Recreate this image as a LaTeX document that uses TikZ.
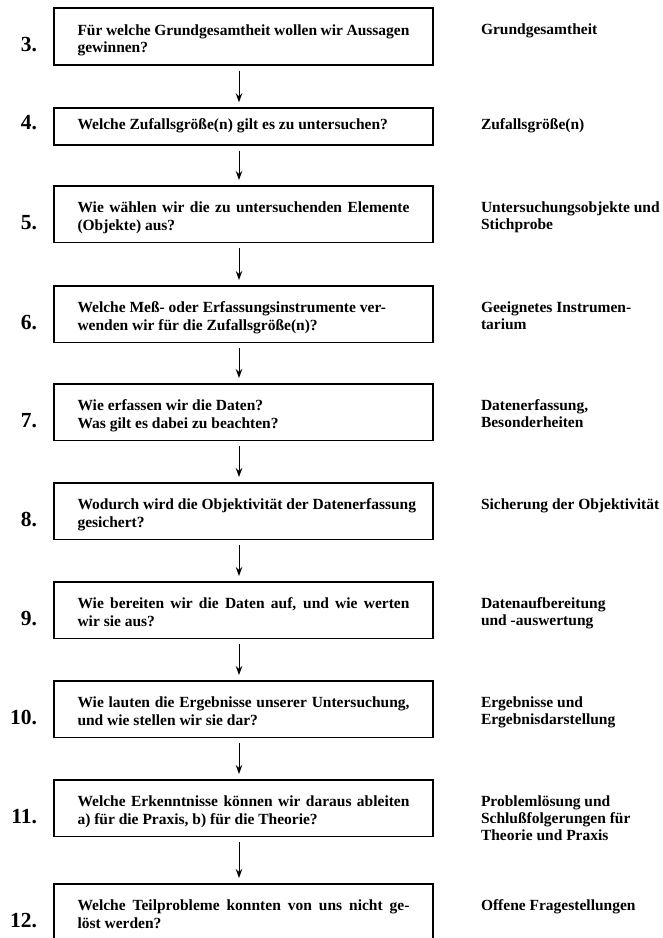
\documentclass[tikz,border=0pt]{standalone}
\usepackage{fontspec}
\setmainfont{Liberation Serif}
\usetikzlibrary{positioning,calc,arrows.meta}

\newcommand{\qtext}[3]{\parbox[c][#1pt][t]{332pt}{\fontsize{15.5}{17.4}\selectfont\bfseries\rule{0pt}{#2pt}#3}}
\newcommand{\atext}[1]{\parbox[t]{185pt}{\raggedright\fontsize{15.5}{17.4}\selectfont\bfseries #1}}

\begin{document}
\begin{tikzpicture}[x=1pt,y=-1pt,
    qbox/.style={draw, line width=1.6pt, inner sep=0pt, minimum width=379pt, anchor=north},
    num/.style={anchor=base east, inner sep=0pt, font=\fontsize{21.5}{24}\selectfont\bfseries},
    topic/.style={anchor=base west, inner sep=0pt},
    flow/.style={line width=1pt, -{Stealth[length=9pt,width=6.5pt]}}]
    \useasboundingbox (0,0) rectangle (662,938);
    \clip (0,0) rectangle (662,938);

    \node[qbox] (b3) at (243.5,7.3) {\qtext{56.7}{27}{Für welche Grundgesamtheit wollen wir Aussagen\linebreak gewinnen?}};
    \node[qbox] (b4) at (243.5,107.3) {\qtext{36.7}{21.7}{Welche Zufallsgröße(n) gilt es zu untersuchen?}};
    \node[qbox] (b5) at (243.5,185) {\qtext{56.7}{27}{Wie wählen wir die zu untersuchenden Elemente\linebreak (Objekte) aus?}};
    \node[qbox] (b6) at (243.5,285) {\qtext{56.7}{27}{Welche Meß- oder Erfassungsinstrumente ver-\\wenden wir für die Zufallsgröße(n)?}};
    \node[qbox] (b7) at (243.5,383) {\qtext{56.7}{27}{Wie erfassen wir die Daten?\\Was gilt es dabei zu beachten?}};
    \node[qbox] (b8) at (243.5,482) {\qtext{56.7}{27}{\mbox{Wodurch wird die Objektivität der Datenerfassung}\\gesichert?}};
    \node[qbox] (b9) at (243.5,581) {\qtext{56.7}{27}{Wie bereiten wir die Daten auf, und wie werten\linebreak wir sie aus?}};
    \node[qbox] (b10) at (243.5,680) {\qtext{56.7}{27}{Wie lauten die Ergebnisse unserer Untersuchung,\linebreak und wie stellen wir sie dar?}};
    \node[qbox] (b11) at (243.5,779) {\qtext{56.7}{27}{Welche Erkenntnisse können wir daraus ableiten\linebreak a) für die Praxis, b) für die Theorie?}};
    \node[qbox] (b12) at (243.5,883) {\qtext{56.7}{27}{Welche Teilprobleme konnten von uns nicht ge-\linebreak löst werden?}};

    \node[num] (n4) at ($(b4.north west)+(-16,21.7)$) {4.};
    \foreach \k in {3,5,6,7,8,9,10,11,12}
        \node[num] (n\k) at ($(b\k.north west)+(-16,44.4)$) {\k.};

    \node[topic] (t3) at ($(b3.north east)+(47,27)$) {\atext{Grundgesamtheit}};
    \node[topic] (t4) at ($(b4.north east)+(47,21.7)$) {\atext{Zufallsgröße(n)}};
    \node[topic] (t5) at ($(b5.north east)+(47,27)$) {\atext{Untersuchungsobjekte und\\Stichprobe}};
    \node[topic] (t6) at ($(b6.north east)+(47,27)$) {\atext{Geeignetes Instrumen-\\tarium}};
    \node[topic] (t7) at ($(b7.north east)+(47,27)$) {\atext{Datenerfassung,\\Besonderheiten}};
    \node[topic] (t8) at ($(b8.north east)+(47,27)$) {\atext{Sicherung der Objektivität}};
    \node[topic] (t9) at ($(b9.north east)+(47,27)$) {\atext{Datenaufbereitung\\und -auswertung}};
    \node[topic] (t10) at ($(b10.north east)+(47,27)$) {\atext{Ergebnisse und\\Ergebnisdarstellung}};
    \node[topic] (t11) at ($(b11.north east)+(47,27)$) {\atext{Problemlösung und\\Schlußfolgerungen für\\Theorie und Praxis}};
    \node[topic] (t12) at ($(b12.north east)+(47,27)$) {\atext{Offene Fragestellungen}};

    \foreach \a/\b in {3/4,4/5,5/6,6/7,7/8,8/9,9/10,10/11,11/12}
        \draw[flow] ([xshift=-4.5pt,yshift=-5pt]b\a.south) -- ([xshift=-4.5pt,yshift=5pt]b\b.north);
\end{tikzpicture}
\end{document}
